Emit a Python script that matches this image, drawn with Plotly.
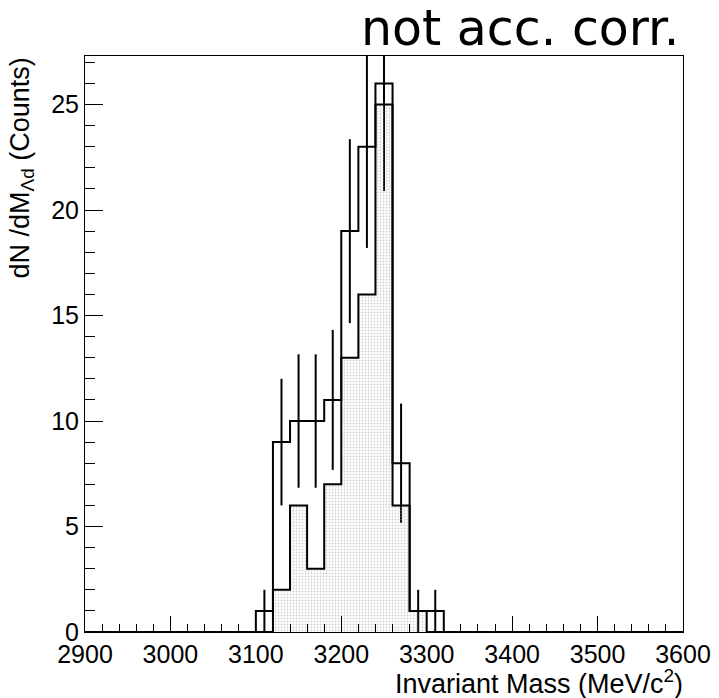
import numpy as np
import plotly.graph_objects as go

# ---- data ----
bin_edges = [3100, 3120, 3140, 3160, 3180, 3200, 3220, 3240, 3260, 3280, 3300, 3320]
counts_all = [1, 9, 10, 10, 11, 19, 23, 26, 8, 1, 1]
counts_sel = [0, 2, 6, 3, 7, 13, 16, 25, 6, 1, 0]
x_range = [2900, 3600]
y_max = 27.3
x_ticks = [2900, 3000, 3100, 3200, 3300, 3400, 3500, 3600]
y_ticks = [0, 5, 10, 15, 20, 25]


def step_path(edges, counts, lo=None, hi=None):
    xs, ys = [], []
    if lo is not None:
        xs.append(lo); ys.append(0)
    xs.append(edges[0]); ys.append(0)
    for i, c in enumerate(counts):
        xs += [edges[i], edges[i + 1]]
        ys += [c, c]
    xs.append(edges[-1]); ys.append(0)
    if hi is not None:
        xs.append(hi); ys.append(0)
    return xs, ys


centers = [(a + b) / 2 for a, b in zip(bin_edges[:-1], bin_edges[1:])]
err = np.sqrt(np.array(counts_all, dtype=float))
err_top_limit = 27.8
err_up = np.minimum(err, err_top_limit - np.array(counts_all))

fig = go.Figure()

# upper histogram outline
ux, uy = step_path(bin_edges, counts_all, x_range[0], x_range[1])
fig.add_trace(go.Scatter(x=ux, y=uy, mode="lines",
                         line=dict(color="black", width=2), hoverinfo="skip",
                         showlegend=False))

# error bars
fig.add_trace(go.Scatter(x=centers, y=counts_all, mode="markers",
                         marker=dict(size=0.1, color="black", opacity=0),
                         error_y=dict(type="data", array=err_up, arrayminus=err,
                                      symmetric=False, width=0, thickness=2,
                                      color="black"),
                         cliponaxis=False, showlegend=False))

# lower filled histogram
lx, ly = step_path(bin_edges, counts_sel)
fig.add_trace(go.Scatter(x=lx, y=ly, mode="lines", fill="tozeroy",
                         fillcolor="rgba(0,0,0,0)",
                         fillpattern=dict(shape=".", fgcolor="#a8a8a8",
                                          bgcolor="rgba(0,0,0,0)",
                                          size=3, solidity=0.3),
                         line=dict(color="black", width=2), hoverinfo="skip",
                         showlegend=False))

tickfont = dict(family="Liberation Sans, Arial, sans-serif", size=25, color="black")

fig.update_layout(
    width=719, height=698,
    margin=dict(l=85, r=36, t=56, b=66),
    paper_bgcolor="white", plot_bgcolor="white",
    showlegend=False,
    xaxis=dict(range=x_range, tickvals=x_ticks, ticks="inside", ticklen=16,
               tickwidth=1, tickcolor="black", showgrid=False, zeroline=False,
               showline=True, linecolor="black", linewidth=1, mirror=True,
               tickfont=tickfont, automargin=False,
               minor=dict(dtick=20, ticks="inside", ticklen=8, tickwidth=1,
                          tickcolor="black", showgrid=False)),
    yaxis=dict(range=[0, y_max], tickvals=y_ticks, ticks="inside", ticklen=18,
               tickwidth=1, tickcolor="black", showgrid=False, zeroline=False,
               showline=True, linecolor="black", linewidth=1, mirror=True,
               tickfont=tickfont, ticklabelstandoff=0, automargin=False,
               minor=dict(dtick=1, ticks="inside", ticklen=10, tickwidth=1,
                          tickcolor="black", showgrid=False)),
    annotations=[
        dict(text="not acc. corr.", xref="paper", yref="paper", x=1, y=1,
             xanchor="right", yanchor="bottom", xshift=-2, yshift=-3,
             showarrow=False,
             font=dict(family="DejaVu Sans", size=49, color="black")),
        dict(text="Invariant Mass (MeV/c<sup>2</sup>)", xref="paper", yref="paper",
             x=1, y=0, xanchor="right", yanchor="top", xshift=2, yshift=-31,
             showarrow=False,
             font=dict(family="Liberation Sans, Arial, sans-serif", size=27,
                       color="black")),
        dict(text="dN /dM<sub>Λd</sub> (Counts)", xref="paper", yref="paper",
             x=0, y=1, xanchor="center", yanchor="top", xshift=-64,
             textangle=-90, showarrow=False,
             font=dict(family="Liberation Sans, Arial, sans-serif", size=27,
                       color="black")),
    ],
)

fig.write_html("out.html",
               config={"displayModeBar": False},
               post_script="document.body.style.margin='0';"
                           "document.body.style.padding='0';"
                           "document.body.style.overflow='hidden';")
